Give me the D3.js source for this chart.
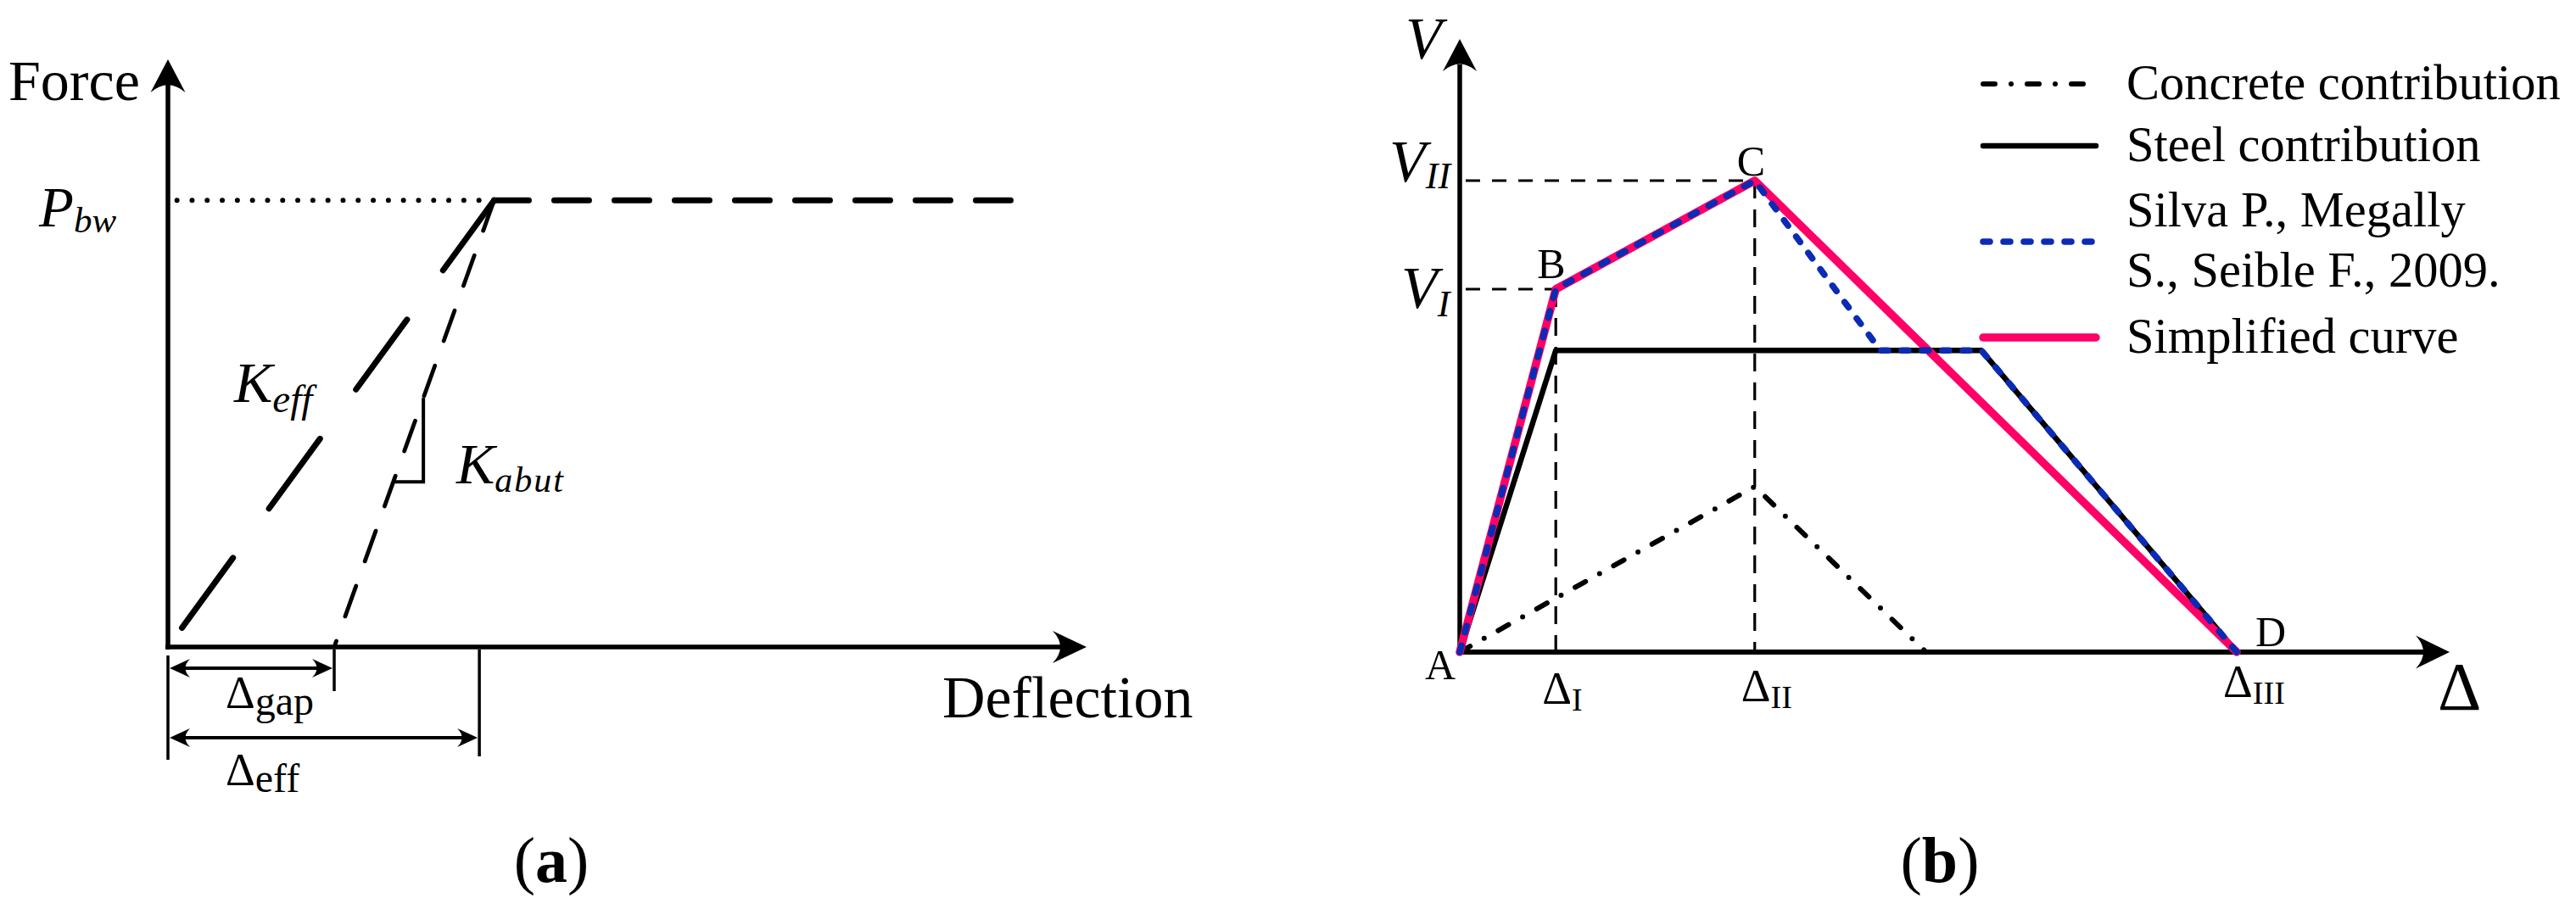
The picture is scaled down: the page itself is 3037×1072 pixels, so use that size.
<!DOCTYPE html>
<html>
<head>
<meta charset="utf-8">
<script src="https://d3js.org/d3.v7.min.js"></script>
<style>
  body { margin: 0; background: #fff; }
  text { font-family: "Liberation Serif", "Times New Roman", serif; fill: #000; }
</style>
</head>
<body>
<script>
var width = 3037,
    height = 1072;

// ---- panel (a) data: abutment backwall model ----
var pbw = 76;                 // P_bw force level
var gapDefl = 18.1;           // Δgap
var effDefl = 33.9;           // Δeff
var kEffLine = [[35.5, 76], [0, 0]];
var kAbutLine = [[35.5, 76], [18.1, 0]];
var plateauLine = [[35.5, 76], [92.5, 76]];
var pbwGuide = [[35.5, 76], [0.9, 76]];
var kAbutMark = [42.4, 28.1];  // force levels of the slope triangle

// ---- panel (b) data: shear capacity curves ----
var concrete = [[0, 0], [29.8, 27.0], [47.1, 0]];
var steel = [[0, 0], [9.7, 49.2], [52.7, 49.2], [78.5, 0]];
var silva = [[0, 0], [9.7, 59.2], [29.8, 76.9], [42.5, 49.2], [52.7, 49.2], [78.5, 0]];
var simplified = [[0, 0], [9.7, 59.2], [29.8, 76.9], [78.5, 0]];
var pointNames = ["A", "B", "C", "D"];
var pointDelta = ["", "I", "II", "III"];
var legendNames = ["Concrete contribution", "Steel contribution", ["Silva P., Megally", "S., Seible F., 2009."], "Simplified curve"];

var pink = "#ff0066",
    blue = "#0b2bb5";

var svg = d3.select("body").append("svg")
    .attr("width", width)
    .attr("height", height);

svg.append("rect")
    .attr("width", width)
    .attr("height", height)
    .attr("fill", "#fff");

// arrow head pointing along angle (radians), with a concave back
function arrowHead(g, x, y, angle, len, hw) {
    var p = "M0,0L" + (-len) + "," + (-hw) + "Q" + (-len + len * 0.45) + ",0 " + (-len) + "," + hw + "Z";
    g.append("path")
        .attr("d", p)
        .attr("fill", "#000")
        .attr("transform", "translate(" + x + "," + y + ") rotate(" + (angle * 180 / Math.PI) + ")");
}

function subText(g, x, y, main, sub, size, subSize, dy, italic, subItalic) {
    var t = g.append("text")
        .attr("x", x)
        .attr("y", y)
        .style("font-size", size + "px")
        .style("font-style", italic ? "italic" : "normal");
    t.append("tspan").text(main);
    t.append("tspan")
        .attr("dy", dy)
        .style("font-size", subSize + "px")
        .style("font-style", subItalic ? "italic" : "normal")
        .text(sub);
    return t;
}

// ================= panel (a) =================
var xa = d3.scaleLinear().domain([0, 100]).range([198, 1281]);
var ya = d3.scaleLinear().domain([0, 100]).range([763, 70]);
var lineA = d3.line().x(function(d) { return xa(d[0]); }).y(function(d) { return ya(d[1]); });

var ga = svg.append("g");

// axes
ga.append("line")
    .attr("x1", xa(0)).attr("y1", ya(0) + 3)
    .attr("x2", xa(0)).attr("y2", ya(100) + 30)
    .attr("stroke", "#000").attr("stroke-width", 5.5);
ga.append("line")
    .attr("x1", xa(0) - 3).attr("y1", ya(0))
    .attr("x2", xa(100) - 30).attr("y2", ya(0))
    .attr("stroke", "#000").attr("stroke-width", 5.5);
arrowHead(ga, xa(0), ya(100), -Math.PI / 2, 39, 20.5);
arrowHead(ga, xa(100), ya(0), 0, 40, 19);

// curves
ga.append("path")
    .attr("d", lineA(pbwGuide))
    .attr("fill", "none").attr("stroke", "#000")
    .attr("stroke-width", 6).attr("stroke-linecap", "round")
    .attr("stroke-dasharray", "0,17.8");
ga.append("path")
    .attr("d", lineA(plateauLine))
    .attr("fill", "none").attr("stroke", "#000")
    .attr("stroke-width", 7).attr("stroke-linecap", "round")
    .attr("stroke-dasharray", "41,30");
ga.append("path")
    .attr("d", lineA(kEffLine))
    .attr("fill", "none").attr("stroke", "#000")
    .attr("stroke-width", 7).attr("stroke-linecap", "round")
    .attr("stroke-dasharray", "102,72");
ga.append("path")
    .attr("d", lineA(kAbutLine))
    .attr("fill", "none").attr("stroke", "#000")
    .attr("stroke-width", 4.8).attr("stroke-linecap", "round")
    .attr("stroke-dasharray", "38,31");

// slope triangle on the K_abut line
function abutX(f) {
    var p0 = kAbutLine[1], p1 = kAbutLine[0];
    return p0[0] + (p1[0] - p0[0]) * (f - p0[1]) / (p1[1] - p0[1]);
}
var tri = [[abutX(kAbutMark[0]), kAbutMark[0]], [abutX(kAbutMark[0]), kAbutMark[1]], [abutX(kAbutMark[1]), kAbutMark[1]]];
ga.append("path")
    .attr("d", lineA(tri))
    .attr("fill", "none").attr("stroke", "#000").attr("stroke-width", 4);

// dimension lines under the axis
var dims = [
    { v: gapDefl, y: ya(0) + 25, tick: 52, label: "gap", ly: ya(0) + 72 },
    { v: effDefl, y: ya(0) + 107, tick: 129, label: "eff", ly: ya(0) + 163 }
];
ga.append("line")
    .attr("x1", xa(0)).attr("y1", ya(0) + 10)
    .attr("x2", xa(0)).attr("y2", ya(0) + 133)
    .attr("stroke", "#000").attr("stroke-width", 3.5);
dims.forEach(function(d) {
    ga.append("line")
        .attr("x1", xa(d.v)).attr("y1", ya(0) + 3)
        .attr("x2", xa(d.v)).attr("y2", ya(0) + d.tick)
        .attr("stroke", "#000").attr("stroke-width", 3.5);
    ga.append("line")
        .attr("x1", xa(0) + 10).attr("y1", d.y)
        .attr("x2", xa(d.v) - 10).attr("y2", d.y)
        .attr("stroke", "#000").attr("stroke-width", 4);
    arrowHead(ga, xa(0) + 2, d.y, Math.PI, 24, 11);
    arrowHead(ga, xa(d.v) - 2, d.y, 0, 24, 11);
    subText(ga, 266, d.ly, "Δ", d.label, 54, 48, 8, false, false);
});

// labels
ga.append("text").attr("x", 10).attr("y", 118).style("font-size", "68px").text("Force");
ga.append("text").attr("x", 1111).attr("y", 846).style("font-size", "70px").text("Deflection");
subText(ga, 46, ya(pbw) + 31, "P", "bw", 67, 43, 7, true, true);
subText(ga, 276, 474, "K", "eff", 68, 47, 12, true, true);
subText(ga, 538, 570, "K", "abut", 68, 42, 10, true, true).select("tspan:last-child").style("letter-spacing", "2px");

var capA = ga.append("text").attr("x", 650).attr("y", 1040)
    .attr("text-anchor", "middle").style("font-size", "76px");
capA.append("tspan").text("(");
capA.append("tspan").style("font-weight", "bold").text("a");
capA.append("tspan").text(")");

// ================= panel (b) =================
var xb = d3.scaleLinear().domain([0, 100]).range([1721, 2888]);
var yb = d3.scaleLinear().domain([0, 100]).range([769, 46]);
var lineB = d3.line().x(function(d) { return xb(d[0]); }).y(function(d) { return yb(d[1]); });

var gb = svg.append("g");

// guide lines to V_I, V_II and Δ_I, Δ_II
[silva[1], silva[2]].forEach(function(p) {
    gb.append("path")
        .attr("d", lineB([[0.6, p[1]], p]))
        .attr("fill", "none").attr("stroke", "#000").attr("stroke-width", 3.2)
        .attr("stroke-dasharray", "17,14");
    gb.append("path")
        .attr("d", lineB([p, [p[0], 0]]))
        .attr("fill", "none").attr("stroke", "#000").attr("stroke-width", 3.2)
        .attr("stroke-dasharray", "21,13");
});

// axes
gb.append("line")
    .attr("x1", xb(0)).attr("y1", yb(0) + 3)
    .attr("x2", xb(0)).attr("y2", yb(100) + 30)
    .attr("stroke", "#000").attr("stroke-width", 5.5);
gb.append("line")
    .attr("x1", xb(0) - 3).attr("y1", yb(0))
    .attr("x2", xb(100) - 30).attr("y2", yb(0))
    .attr("stroke", "#000").attr("stroke-width", 6);
arrowHead(gb, xb(0), yb(100), -Math.PI / 2, 38, 20);
arrowHead(gb, xb(100), yb(0), 0, 40, 19.5);

// curves
var series = [
    { data: concrete, color: "#000", w: 6, dash: "14,19,0,19" },
    { data: steel, color: "#000", w: 6.5, dash: null },
    { data: simplified, color: pink, w: 9.5, dash: null },
    { data: silva, color: blue, w: 7.5, dash: "8,16" }
];
series.forEach(function(s) {
    gb.append("path")
        .attr("d", lineB(s.data))
        .attr("fill", "none")
        .attr("stroke", s.color)
        .attr("stroke-width", s.w)
        .attr("stroke-linejoin", "round")
        .attr("stroke-linecap", "round")
        .attr("stroke-dasharray", s.dash);
});

// point labels A-D
var keyPts = [simplified[0], simplified[1], simplified[2], simplified[3]];
var ptOff = [[-41, 32], [-22, -13], [-21, -6], [22, -7]];
keyPts.forEach(function(p, i) {
    gb.append("text")
        .attr("x", xb(p[0]) + ptOff[i][0])
        .attr("y", yb(p[1]) + ptOff[i][1])
        .style("font-size", "50px")
        .text(pointNames[i]);
});

// Δ labels under the axis
var dBase = [0, 830, 827, 822];
keyPts.forEach(function(p, i) {
    if (i === 0) return;
    subText(gb, xb(p[0]) - 16, dBase[i], "Δ", pointDelta[i], 54, 38, 8, false, false);
});
gb.append("text").attr("x", 2874).attr("y", 837).style("font-size", "80px").text("Δ");

// V labels
gb.append("text").attr("x", 1657).attr("y", 69)
    .style("font-size", "70px").style("font-style", "italic").text("V");
subText(gb, 1638, yb(silva[2][1]) + 1, "V", "II", 70, 44, 8, true, true);
subText(gb, 1652, yb(silva[1][1]) + 22, "V", "I", 70, 44, 10, true, true);

// legend
var legendY = [99, 172, 285, 398];
var legendSeries = [series[0], series[1], series[3], series[2]];
legendSeries.forEach(function(s, i) {
    gb.append("line")
        .attr("x1", 2338).attr("y1", legendY[i])
        .attr("x2", 2471).attr("y2", legendY[i])
        .attr("stroke", s.color)
        .attr("stroke-width", s.w)
        .attr("stroke-linecap", "round")
        .attr("stroke-dasharray", s.dash);
    var names = Array.isArray(legendNames[i]) ? legendNames[i] : [legendNames[i]];
    names.forEach(function(n, j) {
        gb.append("text")
            .attr("x", 2507)
            .attr("y", names.length > 1 ? legendY[i] - 18 + j * 71 : legendY[i] + 18)
            .style("font-size", "58.5px")
            .text(n);
    });
});

var capB = gb.append("text").attr("x", 2287).attr("y", 1040)
    .attr("text-anchor", "middle").style("font-size", "76px");
capB.append("tspan").text("(");
capB.append("tspan").style("font-weight", "bold").text("b");
capB.append("tspan").text(")");
</script>
</body>
</html>
